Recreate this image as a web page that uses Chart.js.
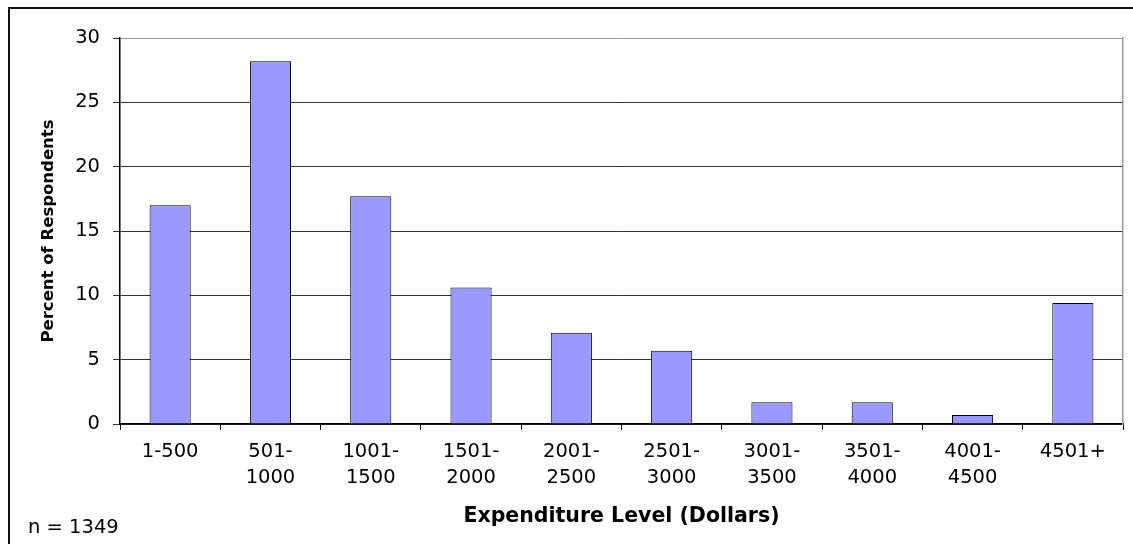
<!DOCTYPE html>
<html>
<head>
<meta charset="utf-8">
<script src="https://cdn.jsdelivr.net/npm/chart.js@4"></script>
<style>
  html, body { margin: 0; padding: 0; background: #fff; }
  #wrap { position: relative; width: 1133px; height: 544px; overflow: hidden; }
  #frame { position: absolute; left: 8px; top: 7px; width: 1200px; height: 600px;
           border-left: 2px solid #111; border-top: 2px solid #111; }
  #note { position: absolute; left: 28px; top: 515px; font: 19.5px "DejaVu Sans", sans-serif; color: #000; }
  canvas { position: absolute; left: 0; top: 0; }
</style>
</head>
<body>
<div id="wrap">
  <div id="frame"></div>
  <canvas id="chart" width="1133" height="544"></canvas>
  <div id="note">n = 1349</div>
</div>
<script>
const categories = [
    '1-500', ['501-', '1000'], ['1001-', '1500'], ['1501-', '2000'], ['2001-', '2500'],
    ['2501-', '3000'], ['3001-', '3500'], ['3501-', '4000'], ['4001-', '4500'], '4501+'
];
const percentValues = [17.0, 28.2, 17.7, 10.6, 7.1, 5.7, 1.7, 1.7, 0.7, 9.4];
const yTicks = [0, 5, 10, 15, 20, 25, 30];

const tickFont = { family: 'DejaVu Sans', size: 19.5, lineHeight: 1.333 };

new Chart(document.getElementById('chart').getContext('2d'), {
    type: 'bar',
    data: {
        labels: categories,
        datasets: [{
            data: percentValues,
            backgroundColor: '#9999ff',
            borderColor: '#000',
            borderWidth: 1,
            barPercentage: 0.41,
            categoryPercentage: 1.0
        }]
    },
    options: {
        responsive: false,
        animation: false,
        layout: { padding: { top: 38, left: 0, right: 0, bottom: 0 } },
        plugins: { legend: { display: false }, tooltip: { enabled: false } },
        scales: {
            x: {
                grid: { offset: true, drawOnChartArea: false, color: '#000', tickLength: 6 },
                border: { color: '#000', width: 1.5 },
                ticks: { color: '#000', font: tickFont, padding: 9, maxRotation: 0, autoSkip: false },
                title: {
                    display: true,
                    text: 'Expenditure Level (Dollars)',
                    color: '#000',
                    font: { family: 'DejaVu Sans', size: 20.5, weight: 'bold', lineHeight: 1.2 },
                    padding: { top: 0, bottom: 15 }
                },
                afterFit: (scale) => { scale.height = 120; }
            },
            y: {
                min: 0,
                max: 30,
                afterBuildTicks: (scale) => { scale.ticks = yTicks.map(v => ({ value: v })); },
                grid: {
                    color: (ctx) => ctx.tick && ctx.tick.value === 30 ? '#999' : '#333',
                    tickColor: '#333',
                    tickLength: 7
                },
                border: { color: '#000', width: 1.5 },
                ticks: { color: '#000', font: tickFont, padding: 13 },
                title: {
                    display: true,
                    text: 'Percent of Respondents',
                    color: '#000',
                    font: { family: 'DejaVu Sans', size: 16.5, weight: 'bold', lineHeight: 1.2 },
                    padding: { top: 39, bottom: 0 }
                },
                afterFit: (scale) => { scale.width = 120; }
            },
            y2: {
                position: 'right',
                min: 0,
                max: 30,
                grid: { display: false },
                ticks: { display: false },
                border: { color: '#999', width: 1.5 },
                afterFit: (scale) => { scale.width = 10; }
            }
        }
    }
});
</script>
</body>
</html>
